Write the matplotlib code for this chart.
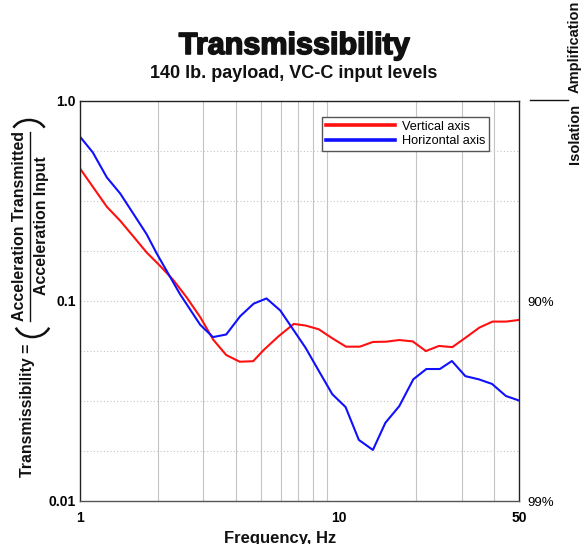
import matplotlib.pyplot as plt
import matplotlib.patheffects as pe
from matplotlib.patches import Arc
from matplotlib.lines import Line2D

plt.rcParams['font.family'] = ['Liberation Sans', 'DejaVu Sans']

# Vertical axis (red)
red_freq = [1.0, 1.12, 1.27, 1.43, 1.61, 1.81, 2.04, 2.3, 2.59, 2.92, 3.28, 3.68, 4.15,
            4.68, 5.14, 5.88, 6.72, 7.46, 8.4, 9.47, 10.7, 12.1, 13.6, 15.3, 17.2, 19.4,
            21.8, 24.5, 27.6, 31.1, 35.1, 39.5, 44.6, 50]
red_trans = [0.46, 0.373, 0.296, 0.252, 0.21, 0.175, 0.15, 0.127, 0.104, 0.083, 0.064,
             0.0537, 0.0497, 0.05, 0.0569, 0.0668, 0.0768, 0.0754, 0.0722, 0.0651, 0.0591,
             0.0591, 0.0624, 0.0626, 0.0638, 0.0628, 0.0562, 0.0596, 0.0588, 0.0656,
             0.0736, 0.0789, 0.0789, 0.0804]

# Horizontal axis (blue)
blue_freq = [1.0, 1.12, 1.27, 1.43, 1.81, 1.98, 2.44, 2.92, 3.27, 3.68, 4.17, 4.7, 5.27,
             5.96, 7.46, 8.4, 9.47, 10.66, 12.0, 13.6, 15.2, 17.2, 19.5, 21.9, 24.7, 27.5,
             31.0, 34.9, 39.3, 44.5, 50]
blue_trans = [0.663, 0.554, 0.415, 0.345, 0.216, 0.173, 0.108, 0.076, 0.066, 0.068, 0.084,
              0.097, 0.103, 0.0896, 0.0584, 0.0447, 0.0342, 0.0295, 0.0202, 0.018, 0.0246,
              0.0298, 0.0406, 0.0457, 0.0457, 0.0501, 0.0421, 0.0406, 0.0385, 0.0335, 0.0318]

x_ticks = [1, 10, 50]
x_ticklabels = ['1', '10', '50']
y_ticks = [0.01, 0.1, 1.0]
y_ticklabels = ['0.01', '0.1', '1.0']
iso_ticklabels = ['99%', '90%', '']
vgrid = [2, 3, 4, 5, 6, 7, 8, 9, 20, 30, 40]
hgrid = [10 ** (-k / 4) for k in range(1, 8)]

W, H = 582, 544
fig = plt.figure(figsize=(W / 100, H / 100), dpi=100)


def fx(x):
    return x / W


def fy(y):
    return 1 - y / H


ax = fig.add_axes([fx(80), fy(501), (519 - 80) / W, 400 / H])
ax.set_xscale('log')
ax.set_yscale('log')
ax.set_xlim(1, 50)
ax.set_ylim(0.01, 1.0)

for v in vgrid:
    ax.axvline(v, color='#c4c4c4', lw=0.8, zorder=0)
for h in hgrid:
    ax.axhline(h, color='#c4c4c4', lw=0.8, ls=(0, (1, 2)), zorder=0)

ax.plot(red_freq, red_trans, color='#ff1010', lw=1.5, label='Vertical axis')
ax.plot(blue_freq, blue_trans, color='#1010ff', lw=1.5, label='Horizontal axis')

ax.set_xticks(x_ticks)
ax.set_xticklabels(x_ticklabels, fontsize=10, fontweight='bold')
ax.set_yticks(y_ticks)
ax.set_yticklabels(y_ticklabels, fontsize=10, fontweight='bold')
ax.minorticks_off()
ax.tick_params(axis='x', length=0, pad=7)
ax.tick_params(axis='y', length=0, pad=3)
for s in ax.spines.values():
    s.set_color('#222222')
    s.set_linewidth(1.0)
ax.spines['bottom'].set_color('#555555')

ax2 = ax.twinx()
ax2.set_yscale('log')
ax2.set_ylim(0.01, 1.0)
ax2.set_yticks(y_ticks)
ax2.set_yticklabels(iso_ticklabels, fontsize=9.5)
ax2.minorticks_off()
ax2.tick_params(axis='y', length=0, pad=6)
for s in ax2.spines.values():
    s.set_visible(False)

leg = ax.legend(loc='upper right', bbox_to_anchor=(0.932, 0.96), borderaxespad=0,
                fontsize=9.2, handlelength=5.4, handletextpad=0.55, fancybox=False,
                framealpha=1, edgecolor='#555555', borderpad=0.3, labelspacing=0.2)
for ln in leg.get_lines():
    ln.set_linewidth(2.6)

fig.text(fx(294), fy(46), 'Transmissibility', ha='center', va='center', fontsize=22,
         fontweight='bold', color='#111111',
         path_effects=[pe.withStroke(linewidth=1.2, foreground='#111111')])
fig.text(fx(294), fy(74), '140 lb. payload, VC-C input levels', ha='center', va='center',
         fontsize=13, fontweight='bold', color='#111111')
fig.text(fx(280), fy(538), 'Frequency, Hz', ha='center', va='center', fontsize=12,
         fontweight='bold', color='#111111')

# left label: Transmissibility = (Acceleration Transmitted / Acceleration Input)
lab = dict(rotation=90, ha='center', va='center', fontsize=11.4, fontweight='bold',
           color='#111111')
fig.text(fx(28), fy(410), 'Transmissibility =', **lab)
fig.text(fx(20), fy(226), 'Acceleration Transmitted', **lab)
fig.text(fx(42), fy(226), 'Acceleration Input', **lab)
fig.add_artist(Line2D([fx(29.5), fx(29.5)], [fy(132), fy(321)], color='#111111', lw=1.0))
fig.add_artist(Arc((fx(32.5), fy(322)), 36 / W, 30 / H, theta1=200, theta2=340,
                   color='#111111', lw=1.8))
fig.add_artist(Arc((fx(29), fy(133)), 34 / W, 26 / H, theta1=20, theta2=160,
                   color='#111111', lw=1.8))

# right label: Isolation / Amplification
fig.text(fx(575), fy(134), 'Isolation', rotation=90, ha='center', va='center',
         fontsize=10.5, fontweight='bold', color='#111111')
fig.text(fx(575), fy(47), 'Amplification', rotation=90, ha='center', va='center',
         fontsize=10.5, fontweight='bold', color='#111111')
fig.add_artist(Line2D([fx(530), fx(568)], [fy(100), fy(100)], color='#111111', lw=1.0))

fig.savefig('out.png', dpi=100)
